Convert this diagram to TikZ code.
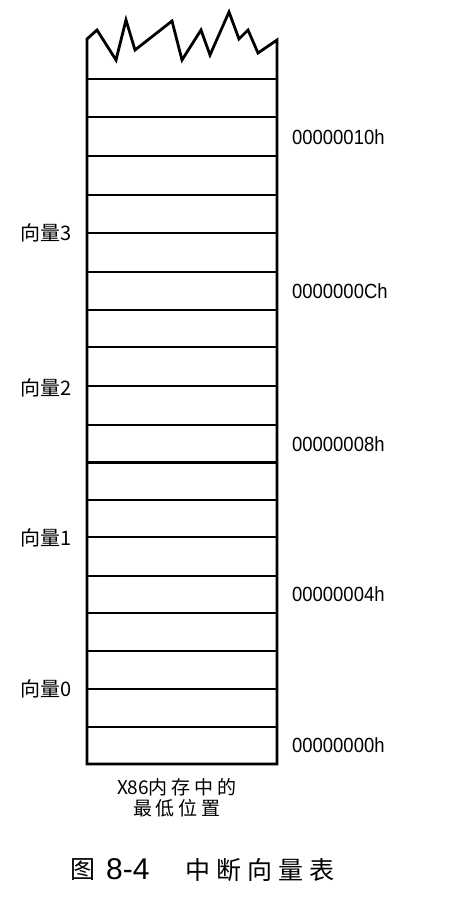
\documentclass[tikz,border=0pt]{standalone}
\usepackage{fontspec}
\setmainfont{Liberation Sans}
\newfontfamily\cjk{Noto Sans CJK SC}
\newfontfamily\addrfont{Liberation Sans}[FakeStretch=0.9]
\begin{document}
\begin{tikzpicture}[x=1pt,y=-1pt,
  thinline/.style={line width=1.8pt},
  thickline/.style={line width=2.8pt},
  addr/.style={font=\addrfont\fontsize{20.5}{24}\selectfont, anchor=west, inner sep=0pt},
  vec/.style={font=\cjk\fontsize{20}{24}\selectfont, anchor=west, inner sep=0pt},
  note/.style={font=\cjk\fontsize{19}{21}\selectfont, align=center, inner sep=0pt},
  capcjk/.style={font=\cjk\fontsize{25}{28}\selectfont, inner sep=0pt},
  capnum/.style={font=\fontsize{30}{34}\selectfont, anchor=west, inner sep=0pt}]
\useasboundingbox[fill=white] (0,0) rectangle (450,898);
% cell separators
\foreach \y in {79.3,117.3,195,233,272,347,386,424.7,500,537,576,651,689,727}
  \draw[thinline] (87,\y) -- (277,\y);
\foreach \y in {156,310,462.7,613}
  \draw[thickline] (87,\y) -- (277,\y);
% outline with torn top
\draw[thickline, line join=miter] (87,764) -- (87,39) -- (97,30) -- (116,60) -- (126,20)
  -- (135,50) -- (172,21) -- (182,60) -- (201,30) -- (210,55) -- (229,12) -- (239,39)
  -- (248,30) -- (258,53) -- (277,40) -- (277,764) -- cycle;
% vector labels
\node[vec] (v3) at (20,233) {向量3};
\node[vec] (v2) at (20,388) {向量2};
\node[vec] (v1) at (20,538) {向量1};
\node[vec] (v0) at (20,689) {向量0};
% address labels
\node[addr] (a10) at (292,136.7) {00000010h};
\node[addr] (a0c) at (292,291) {0000000Ch};
\node[addr] (a08) at (292,443.7) {00000008h};
\node[addr] (a04) at (292,594.5) {00000004h};
\node[addr] (a00) at (292,745.5) {00000000h};
% note under the column
\node[note] (low) at (177,797.5) {X86内\kern4pt 存\kern4pt 中\kern4pt 的\\最\kern4pt 低\kern4pt 位\kern4pt 置};
% caption
\node[capcjk] (fig) at (82.5,870) {图};
\node[capnum] (num) at (106,869) {8-4};
\node[capcjk, anchor=west] (title) at (185,870) {中\kern6pt 断\kern6pt 向\kern6pt 量\kern6pt 表};
\end{tikzpicture}
\end{document}
